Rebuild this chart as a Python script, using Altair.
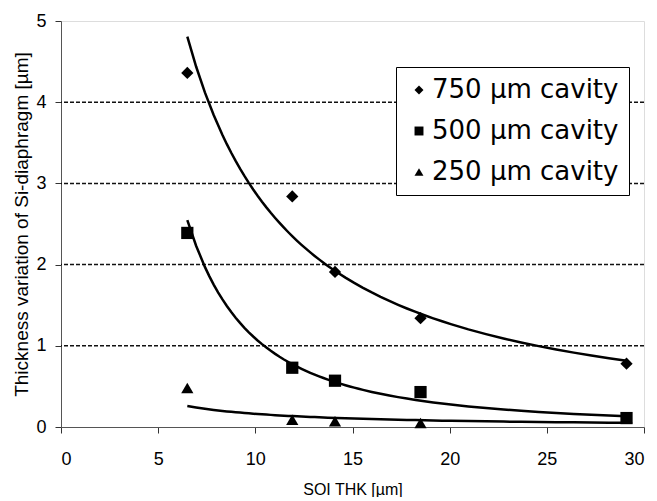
import altair as alt
import pandas as pd

# SOI thickness [µm] of the five measured wafers
soi_thk = [6.5, 11.9, 14.1, 18.5, 29.1]
# thickness variation of Si-diaphragm [µm]
cav750 = [4.36, 2.84, 1.91, 1.34, 0.78]
cav500 = [2.39, 0.73, 0.57, 0.43, 0.11]
cav250 = [0.48, 0.09, 0.07, 0.05, 0.11]
series_names = ["750 µm cavity", "500 µm cavity", "250 µm cavity"]
series_shapes = ["diamond", "square", "triangle-up"]
grid_levels = [1, 2, 3, 4]
x_ticks = [0, 5, 10, 15, 20, 25, 30]
y_ticks = [0, 1, 2, 3, 4, 5]

rows = []
for name, vals in zip(series_names, [cav750, cav500, cav250]):
    for x, y in zip(soi_thk, vals):
        rows.append({"thk": x, "val": y, "series": name})
df = pd.DataFrame(rows)
grid_df = pd.DataFrame({"val": grid_levels})

FONT = "Liberation Sans"

xscale = alt.Scale(domain=[0, 30], nice=False, zero=False)
yscale = alt.Scale(domain=[0, 5], nice=False)

xaxis = alt.Axis(title="SOI THK [µm]", values=x_ticks, grid=False,
                 domainColor="#555", tickColor="#333", tickSize=6,
                 labelFont=FONT, labelFontSize=18, labelColor="black", labelPadding=17,
                 titleFont=FONT, titleFontSize=16, titleFontWeight="normal",
                 titleColor="black", titlePadding=13)
yaxis = alt.Axis(title="Thickness variation of Si-diaphragm [µm]", values=y_ticks,
                 grid=False, domainColor="#555", tickColor="#333", tickSize=6,
                 labelFont=FONT, labelFontSize=18, labelColor="black", labelPadding=9,
                 titleFont=FONT, titleFontSize=19, titleFontWeight="normal",
                 titleColor="black", titlePadding=4)

def X(field):
    return alt.X(f"{field}:Q", scale=xscale, axis=xaxis)

def Y(field):
    return alt.Y(f"{field}:Q", scale=yscale, axis=yaxis)

grid = alt.Chart(grid_df).mark_rule(color="#111", strokeWidth=1.5, strokeDash=[4, 2]).encode(
    y=Y("val")
)

trend = alt.Chart(df).transform_regression(
    "thk", "val", groupby=["series"], method="pow"
).mark_line(color="black", strokeWidth=2.5).encode(
    x=X("thk"), y=Y("val"), detail="series:N"
)

points = alt.Chart(df).mark_point(filled=True, color="black", size=150, opacity=1).encode(
    x=X("thk"),
    y=Y("val"),
    shape=alt.Shape("series:N",
                    scale=alt.Scale(domain=series_names, range=series_shapes),
                    legend=alt.Legend(title=None, orient="none", legendX=335, legendY=46,
                                      fillColor="white", strokeColor="black",
                                      padding=10, labelFont="DejaVu Sans", labelFontSize=26,
                                      labelColor="black", labelLimit=400, symbolSize=80,
                                      symbolFillColor="black", symbolStrokeColor="black",
                                      symbolOffset=0, labelOffset=0, rowPadding=15)),
)

chart = alt.layer(grid, trend, points).properties(
    width=583, height=406,
    autosize=alt.AutoSizeParams(type="none"),
    padding={"left": 53, "top": 13, "right": 5, "bottom": 70},
).configure_view(stroke="#666", strokeWidth=1.2).configure(background="white")

chart.save("out.html", embed_options={"renderer": "svg", "actions": False})
